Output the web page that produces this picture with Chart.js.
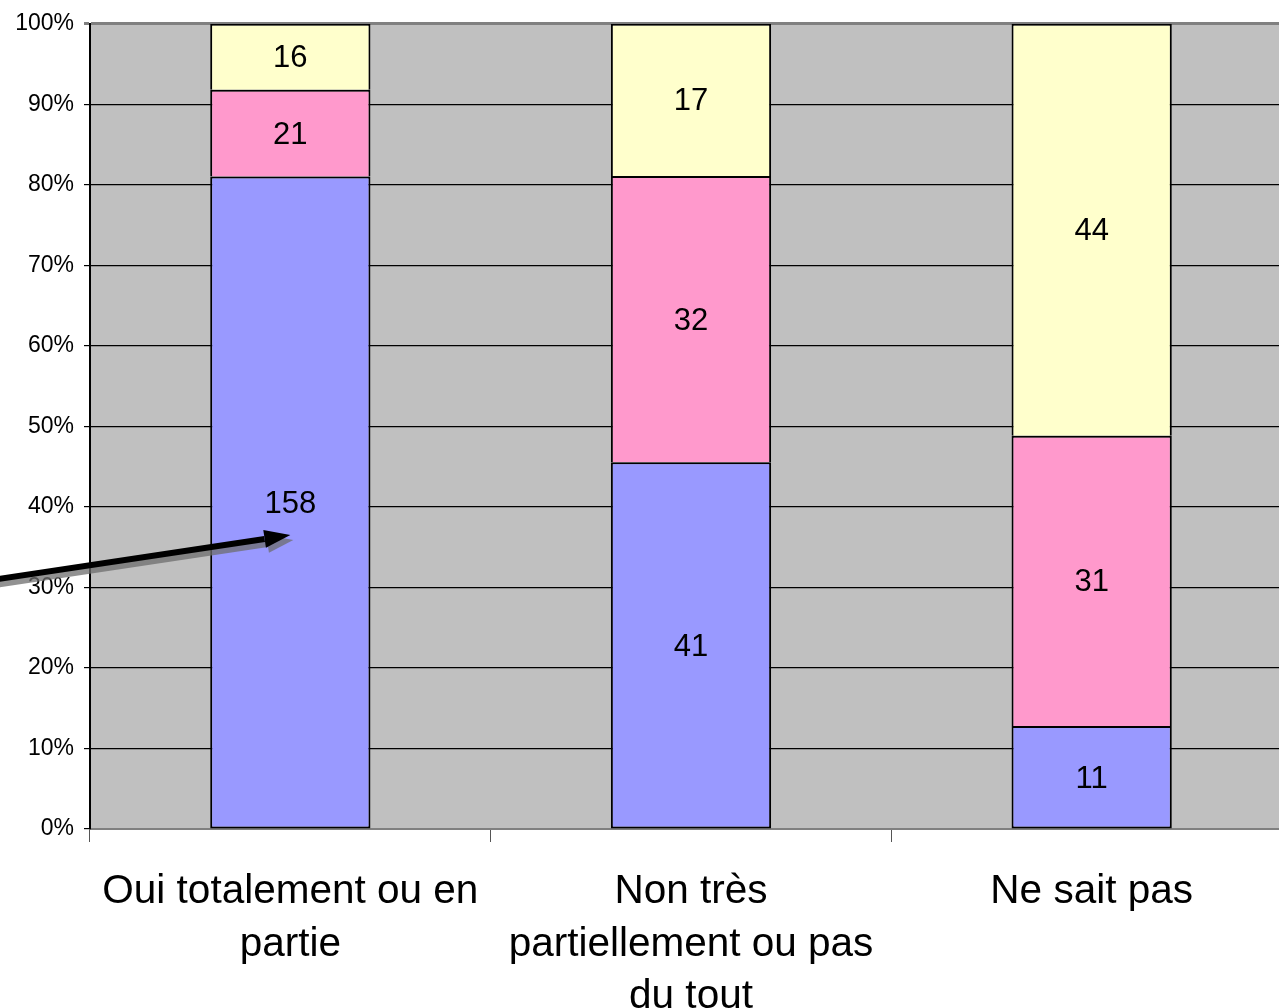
<!DOCTYPE html>
<html>
<head>
<meta charset="utf-8">
<script src="https://cdn.jsdelivr.net/npm/chart.js@4"></script>
<style>
html,body{margin:0;padding:0;background:#fff;overflow:hidden;}
#wrap{width:1292px;height:1008px;position:relative;}
</style>
</head>
<body>
<div id="wrap"><canvas id="c" width="1292" height="1008"></canvas></div>
<script>
const categories = [["Oui totalement ou en","partie"],["Non très","partiellement ou pas","du tout"],["Ne sait pas"]];
const seriesBlue = [158, 41, 11];
const seriesPink = [21, 32, 31];
const seriesYellow = [16, 17, 44];
const yTickLabels = ["0%","10%","20%","30%","40%","50%","60%","70%","80%","90%","100%"];

const totals = seriesBlue.map((v,i)=>v+seriesPink[i]+seriesYellow[i]);
const pct = arr => arr.map((v,i)=>v/totals[i]*100);
const FONT = '"Liberation Sans", Arial, sans-serif';

const bgPlugin = {
  id:'bg',
  beforeDraw(chart){
    const {ctx, chartArea:a} = chart;
    ctx.save();
    ctx.fillStyle = '#C0C0C0';
    ctx.fillRect(a.left, a.top, a.right-a.left, a.bottom-a.top);
    ctx.restore();
  }
};

const labelPlugin = {
  id:'lbl',
  afterDatasetsDraw(chart){
    const ctx = chart.ctx;
    ctx.save();
    ctx.font = '31px ' + FONT;
    ctx.fillStyle = '#000';
    ctx.textAlign = 'center';
    ctx.textBaseline = 'middle';
    chart.data.datasets.forEach((ds, di)=>{
      const meta = chart.getDatasetMeta(di);
      meta.data.forEach((bar, i)=>{
        const yc = (bar.y + bar.base)/2;
        ctx.fillText(String(ds.counts[i]), bar.x, yc+2);
      });
    });
    ctx.restore();
  }
};

const arrowPlugin = {
  id:'arrow',
  afterDraw(chart){
    const ctx = chart.ctx;
    const xs = chart.scales.x, ys = chart.scales.y;
    const x2 = xs.getPixelForValue(0), y2 = ys.getPixelForValue(36.5);
    const x1 = xs.getPixelForValue(-0.75), y1 = ys.getPixelForValue(30.9);
    const draw = (dx, dy, color, lw) => {
      const ang = Math.atan2(y2-y1, x2-x1);
      const hl = 26, hw = 9;
      const bx = x2 - hl*Math.cos(ang), by = y2 - hl*Math.sin(ang);
      ctx.strokeStyle = color; ctx.fillStyle = color;
      ctx.lineWidth = lw;
      ctx.beginPath();
      ctx.moveTo(x1+dx, y1+dy); ctx.lineTo(bx+dx, by+dy); ctx.stroke();
      ctx.beginPath();
      ctx.moveTo(x2+dx, y2+dy);
      ctx.lineTo(bx - hw*Math.sin(ang)+dx, by + hw*Math.cos(ang)+dy);
      ctx.lineTo(bx + hw*Math.sin(ang)+dx, by - hw*Math.cos(ang)+dy);
      ctx.closePath(); ctx.fill();
    };
    ctx.save();
    draw(3, 5, 'rgba(110,110,110,0.75)', 6);
    draw(0, 0, '#000', 6);
    ctx.restore();
  }
};

new Chart(document.getElementById('c'), {
  type:'bar',
  data:{
    labels: categories,
    datasets:[
      {data:pct(seriesBlue), counts:seriesBlue, backgroundColor:'#9999FF'},
      {data:pct(seriesPink), counts:seriesPink, backgroundColor:'#FF99CC'},
      {data:pct(seriesYellow), counts:seriesYellow, backgroundColor:'#FFFFCC'}
    ].map((d,di)=>Object.assign(d,{borderColor:'#000',
      borderWidth:{top: 2, bottom: di===0 ? 2 : 0, left:2, right:2},
      borderSkipped:false, categoryPercentage:1, barPercentage:0.4}))
  },
  options:{
    responsive:false,
    animation:false,
    layout:{padding:{top:23, left:0, right:0, bottom:0}},
    plugins:{legend:{display:false}, tooltip:{enabled:false}},
    scales:{
      x:{
        stacked:true,
        grid:{drawOnChartArea:false, drawTicks:true, tickLength:13, color:'#555', offset:true},
        border:{display:true, color:'#808080', width:2},
        ticks:{font:{family:FONT, size:40.5, lineHeight:1.29}, color:'#000', padding:24, maxRotation:0, autoSkip:false},
        afterFit(s){ s.height = 179; }
      },
      y:{
        stacked:true, min:0, max:100,
        grid:{color:(c)=> c.tick && c.tick.value===100 ? '#808080' : '#000', lineWidth:(c)=> c.tick && c.tick.value===100 ? 3 : 1.2, tickLength:6},
        border:{display:true, color:'#000', width:2},
        ticks:{stepSize:10, font:{family:FONT, size:23}, color:'#000', padding:10,
          callback:(v)=> yTickLabels[Math.round(v/10)]},
        afterFit(s){ s.width = 90; }
      }
    }
  },
  plugins:[bgPlugin, labelPlugin, arrowPlugin]
});
</script>
</body>
</html>
